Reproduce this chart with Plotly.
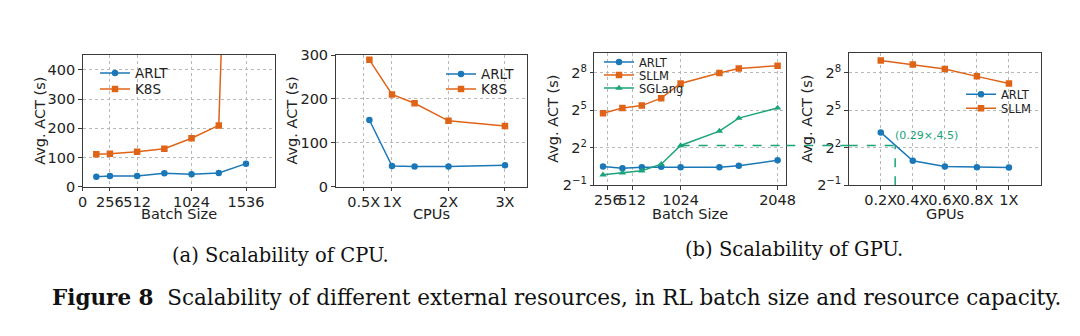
import math
import plotly.graph_objects as go

# ---------------- data ----------------
# (a) CPU: batch-size sweep
CPU_BATCH = [128, 256, 512, 768, 1024, 1280, 1536]
CPU_BATCH_ARLT = [34, 37, 37, 46, 43, 47, 79]
CPU_BATCH_K8S = [111, 113, 120, 130, 166, 210, 3000]
CPU_BATCH_TICKS = [0, 256, 512, 1024, 1536]

# (a) CPU: resource-capacity sweep
CPU_SCALE = [0.6, 1.0, 1.4, 2.0, 3.0]
CPU_SCALE_ARLT = [152, 47, 46, 46, 49]
CPU_SCALE_K8S = [289, 210, 190, 150, 138]
CPU_SCALE_TICKS = [0.5, 1, 2, 3]
CPU_SCALE_LABELS = ["0.5X", "1X", "2X", "3X"]

# (b) GPU: batch-size sweep
GPU_BATCH = [204.8, 409.6, 614.4, 819.2, 1024, 1433.6, 1638.4, 2048]
GPU_BATCH_ARLT = [1.41, 1.28, 1.36, 1.38, 1.36, 1.36, 1.46, 2.0]
GPU_BATCH_SLLM = [27, 36, 41, 62, 140, 249, 318, 375]
GPU_BATCH_SGLANG = [0.89, 0.99, 1.11, 1.6, 4.5, 10, 20.5, 36]
GPU_BATCH_TICKS = [256, 512, 1024, 2048]

# (b) GPU: resource-capacity sweep
GPU_SCALE = [0.2, 0.4, 0.6, 0.8, 1.0]
GPU_SCALE_ARLT = [9.3, 1.93, 1.41, 1.36, 1.33]
GPU_SCALE_SLLM = [501, 401, 311, 207, 140]
GPU_SCALE_TICKS = [0.2, 0.4, 0.6, 0.8, 1.0]
GPU_SCALE_LABELS = ["0.2X", "0.4X", "0.6X", "0.8X", "1X"]

LOG2_TICKS = [-1, 2, 5, 8]

# SGLang latency at batch 1024 and the GPU share ARLT needs to match it
REF_BATCH = 1024
REF_ACT = GPU_BATCH_SGLANG[GPU_BATCH.index(REF_BATCH)]
MATCH_GPU = 0.29

# ---------------- style ----------------
W, H = 1080, 336
BLUE = "#1a78b8"
ORANGE = "#e06418"
GREEN = "#1ba37a"
FONT = "DejaVu Sans"
SERIF = "DejaVu Serif"
FS = 14.5
TXT = "#222"


def xdom(left, right):
    return [left / W, right / W]


def ydom(top, bottom):
    return [1 - bottom / H, 1 - top / H]


def axis_style(**kw):
    base = dict(
        showline=True, mirror=True, linecolor="#3a3a3a", linewidth=1,
        ticks="outside", ticklen=3.5, tickwidth=0.8, tickcolor="#3a3a3a",
        showgrid=True, gridcolor="#b8b8b8", gridwidth=0.8, griddash="dot",
        zeroline=False, automargin=False, tickangle=0,
        tickfont=dict(family=FONT, size=FS, color=TXT),
    )
    base.update(kw)
    return base


def x_axis(**kw):
    return axis_style(ticklabelstandoff=-2, **kw)


fig = go.Figure()

series = [
    # (x, y, name, color, symbol, xaxis, yaxis, legend)
    (CPU_BATCH, CPU_BATCH_ARLT, "ARLT", BLUE, "circle", "x", "y", "legend"),
    (CPU_BATCH, CPU_BATCH_K8S, "K8S", ORANGE, "square", "x", "y", "legend2"),
    (CPU_SCALE, CPU_SCALE_ARLT, "ARLT", BLUE, "circle", "x2", "y2", "legend3"),
    (CPU_SCALE, CPU_SCALE_K8S, "K8S", ORANGE, "square", "x2", "y2", "legend4"),
    (GPU_BATCH, GPU_BATCH_ARLT, "ARLT", BLUE, "circle", "x3", "y3", "legend5"),
    (GPU_BATCH, GPU_BATCH_SLLM, "SLLM", ORANGE, "square", "x3", "y3", "legend6"),
    (GPU_BATCH, GPU_BATCH_SGLANG, "SGLang", GREEN, "triangle-up", "x3", "y3", "legend7"),
    (GPU_SCALE, GPU_SCALE_ARLT, "ARLT", BLUE, "circle", "x4", "y4", "legend8"),
    (GPU_SCALE, GPU_SCALE_SLLM, "SLLM", ORANGE, "square", "x4", "y4", "legend9"),
]
for x, y, name, color, sym, xa, ya, lg in series:
    fig.add_trace(go.Scatter(
        x=x, y=y, name=name, mode="lines+markers",
        line=dict(color=color, width=1.5),
        marker=dict(color=color, symbol=sym, size=6.5),
        xaxis=xa, yaxis=ya, legend=lg,
    ))

# one legend box per entry so each row sits where it belongs
legend_rows = {
    "legend": (95, 73.3, 13.5), "legend2": (95, 89.3, 13.5),
    "legend3": (441, 74.3, 13.5), "legend4": (441, 89.3, 13.5),
    "legend5": (599, 62.0, 11.5), "legend6": (599, 75.0, 11.5),
    "legend7": (599, 88.0, 11.5),
    "legend8": (961, 94.3, 11.5), "legend9": (961, 108.3, 11.5),
}
legend_layout = {}
for key, (lx, ly, fsz) in legend_rows.items():
    legend_layout[key] = dict(
        x=lx / W, y=1 - ly / H, xanchor="left", yanchor="middle",
        bgcolor="rgba(0,0,0,0)", borderwidth=0, itemwidth=30,
        font=dict(family=FONT, size=fsz, color=TXT),
    )

log_ticktext = ["2<sup>%s</sup>" % (str(v).replace("-", "\u2212")) for v in LOG2_TICKS]
log_tickvals = [2.0 ** v for v in LOG2_TICKS]
log_range = [math.log10(0.5), math.log10(2 ** 9.6)]

TOP_A, BOT_A = 55, 186.7
TOP_B, BOT_B = 52.5, 185.2

fig.update_layout(
    width=W, height=H, margin=dict(l=0, r=0, t=0, b=0),
    paper_bgcolor="white", plot_bgcolor="white", template="none",
    showlegend=True,
    xaxis=x_axis(domain=xdom(82.7, 274.7), range=[0, 1806], anchor="y",
                 tickvals=CPU_BATCH_TICKS),
    yaxis=axis_style(domain=ydom(TOP_A, BOT_A), range=[0, 451], anchor="x",
                     tickvals=[0, 100, 200, 300, 400]),
    xaxis2=x_axis(domain=xdom(335.5, 527), range=[0, 3.39], anchor="y2",
                  tickvals=CPU_SCALE_TICKS, ticktext=CPU_SCALE_LABELS),
    yaxis2=axis_style(domain=ydom(TOP_A, BOT_A), range=[0, 300], anchor="x2",
                      tickvals=[0, 100, 200, 300]),
    xaxis3=x_axis(domain=xdom(594.3, 786.3), range=[112.6, 2140], anchor="y3",
                  tickvals=GPU_BATCH_TICKS),
    yaxis3=axis_style(domain=ydom(TOP_B, BOT_B), type="log", range=log_range,
                      anchor="x3", tickvals=log_tickvals, ticktext=log_ticktext),
    xaxis4=x_axis(domain=xdom(848.7, 1041), range=[0, 1.2], anchor="y4",
                  tickvals=GPU_SCALE_TICKS, ticktext=GPU_SCALE_LABELS),
    yaxis4=axis_style(domain=ydom(TOP_B, BOT_B), type="log", range=log_range,
                      anchor="x4", tickvals=log_tickvals, ticktext=log_ticktext),
    **legend_layout,
)

# axis titles
title_font = dict(family=FONT, size=FS, color=TXT)
x_titles = [("x", "Batch Size"), ("x2", "CPUs"), ("x3", "Batch Size"), ("x4", "GPUs")]
for xa, text in x_titles:
    fig.add_annotation(xref=xa + " domain", yref="paper", x=0.5, y=1 - 213.5 / H,
                       text=text, showarrow=False, xanchor="center", yanchor="middle",
                       font=title_font)
y_titles = [(40, TOP_A, BOT_A), (291.7, TOP_A, BOT_A), (553, TOP_B, BOT_B), (807, TOP_B, BOT_B)]
for cx, top, bot in y_titles:
    fig.add_annotation(xref="paper", yref="paper", x=cx / W, y=1 - (top + bot) / 2 / H,
                       text="Avg. ACT (s)", textangle=-90, showarrow=False,
                       xanchor="center", yanchor="middle", font=title_font)

# dashed guide: SGLang at batch 1024 carried over to the GPU-share panel
guide = dict(type="line", line=dict(color=GREEN, width=1.5, dash="dash"), layer="above")
x3_dom = fig.layout.xaxis3.domain
x4_dom = fig.layout.xaxis4.domain
fig.add_shape(xref="x3", yref="y3", x0=REF_BATCH, x1=fig.layout.xaxis3.range[1],
              y0=REF_ACT, y1=REF_ACT, **guide)
fig.add_shape(xref="paper", yref="y3", x0=x3_dom[1], x1=x4_dom[0],
              y0=REF_ACT, y1=REF_ACT, **guide)
fig.add_shape(xref="x4", yref="y4", x0=0, x1=MATCH_GPU,
              y0=REF_ACT, y1=REF_ACT, **guide)
fig.add_shape(xref="x4", yref="y4", x0=MATCH_GPU, x1=MATCH_GPU,
              y0=0.5, y1=REF_ACT, **guide)
fig.add_annotation(xref="x4", yref="y4", x=MATCH_GPU, y=math.log10(REF_ACT),
                   text="(%s\u00d7,%s)" % (MATCH_GPU, REF_ACT), showarrow=False,
                   xanchor="left", yanchor="bottom", yshift=2, xshift=-2,
                   font=dict(family=FONT, size=11, color=GREEN))

# captions
fig.add_annotation(xref="paper", yref="paper", x=280 / W, y=1 - 255 / H,
                   text="(a) Scalability of CPU.", showarrow=False,
                   xanchor="center", yanchor="middle",
                   font=dict(family=SERIF, size=19.5, color="#111"))
fig.add_annotation(xref="paper", yref="paper", x=794 / W, y=1 - 249 / H,
                   text="(b) Scalability of GPU.", showarrow=False,
                   xanchor="center", yanchor="middle",
                   font=dict(family=SERIF, size=19.5, color="#111"))
fig.add_annotation(xref="paper", yref="paper", x=50 / W, y=1 - 297 / H,
                   text="<b>Figure 8</b>  Scalability of different external resources, "
                        "in RL batch size and resource capacity.",
                   showarrow=False, xanchor="left", yanchor="middle",
                   font=dict(family=SERIF, size=21.5, color="#111"))

fig.write_html("out.html")
